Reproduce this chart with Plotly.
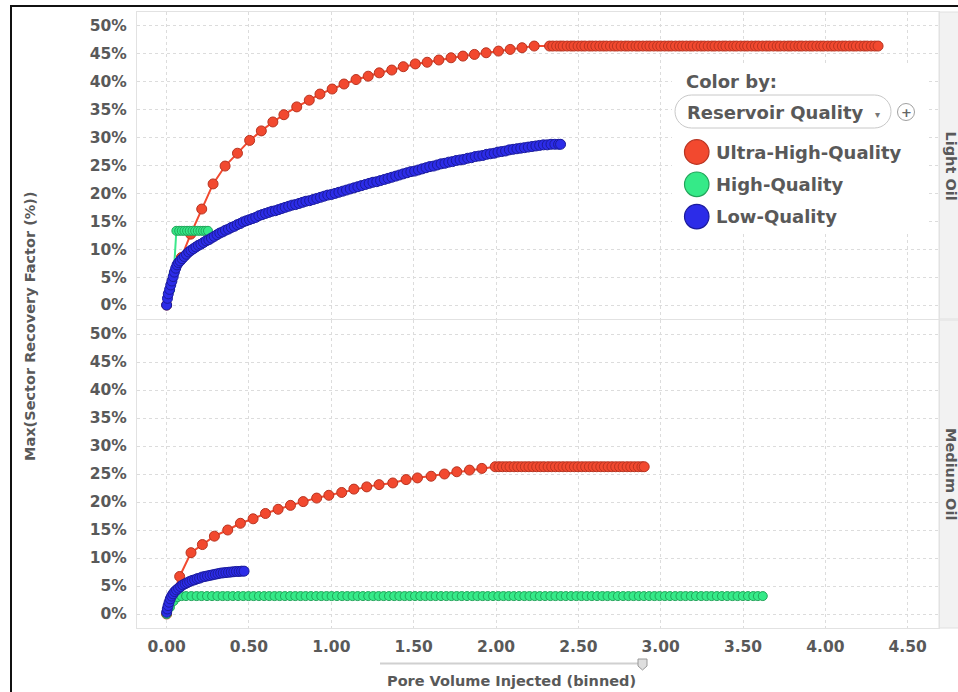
import plotly.graph_objects as go

FIG_W, FIG_H = 958, 692

# ---------------------------------------------------------------------------
# Data: Max(Sector Recovery Factor (%)) vs Pore Volume Injected (binned)
# ---------------------------------------------------------------------------
facet_names = ["Light Oil", "Medium Oil"]
quality_names = ["Ultra-High-Quality", "High-Quality", "Low-Quality"]
y_tick_values = [0, 5, 10, 15, 20, 25, 30, 35, 40, 45, 50]
y_tick_labels = ["0%", "5%", "10%", "15%", "20%", "25%", "30%", "35%", "40%", "45%", "50%"]
x_tick_values = [0.0, 0.5, 1.0, 1.5, 2.0, 2.5, 3.0, 3.5, 4.0, 4.5]
x_tick_labels = ["0.00", "0.50", "1.00", "1.50", "2.00", "2.50", "3.00", "3.50", "4.00", "4.50"]

# Light Oil / Ultra-High-Quality
pv_light_ultra = [
    0.000, 0.089, 0.146, 0.213, 0.282, 0.355, 0.430, 0.504, 0.575, 0.645,
    0.712, 0.790, 0.866, 0.931, 1.005, 1.077, 1.150, 1.224, 1.291, 1.367,
    1.437, 1.510, 1.582, 1.653, 1.727, 1.799, 1.869, 1.940, 2.015, 2.086,
    2.158, 2.232,
    2.325, 2.345, 2.368, 2.390, 2.408, 2.432, 2.455, 2.474, 2.498, 2.520,
    2.540, 2.566, 2.585, 2.606, 2.630, 2.652, 2.671, 2.695, 2.718, 2.737,
    2.760, 2.784, 2.803, 2.826, 2.850, 2.869, 2.892, 2.915, 2.935, 2.958,
    2.981, 3.001, 3.024, 3.047, 3.066, 3.090, 3.113, 3.133, 3.156, 3.179,
    3.198, 3.222, 3.245, 3.265, 3.288, 3.311, 3.330, 3.354, 3.377, 3.396,
    3.420, 3.443, 3.462, 3.486, 3.509, 3.528, 3.552, 3.575, 3.594, 3.618,
    3.641, 3.660, 3.684, 3.707, 3.726, 3.750, 3.773, 3.792, 3.816, 3.839,
    3.858, 3.882, 3.905, 3.924, 3.948, 3.971, 3.990, 4.014, 4.037, 4.056,
    4.080, 4.103, 4.122, 4.146, 4.169, 4.188, 4.212, 4.235, 4.254, 4.278,
    4.300, 4.320,
]
rf_light_ultra = [
    0.0, 8.5, 12.7, 17.2, 21.7, 24.9, 27.2, 29.5, 31.2, 32.8,
    34.1, 35.5, 36.7, 37.8, 38.7, 39.6, 40.4, 41.0, 41.6, 42.1,
    42.7, 43.2, 43.5, 43.9, 44.3, 44.6, 44.9, 45.2, 45.5, 45.8,
    46.1, 46.4,
    46.4, 46.4, 46.4, 46.4, 46.4, 46.4, 46.4, 46.4, 46.4, 46.4,
    46.4, 46.4, 46.4, 46.4, 46.4, 46.4, 46.4, 46.4, 46.4, 46.4,
    46.4, 46.4, 46.4, 46.4, 46.4, 46.4, 46.4, 46.4, 46.4, 46.4,
    46.4, 46.4, 46.4, 46.4, 46.4, 46.4, 46.4, 46.4, 46.4, 46.4,
    46.4, 46.4, 46.4, 46.4, 46.4, 46.4, 46.4, 46.4, 46.4, 46.4,
    46.4, 46.4, 46.4, 46.4, 46.4, 46.4, 46.4, 46.4, 46.4, 46.4,
    46.4, 46.4, 46.4, 46.4, 46.4, 46.4, 46.4, 46.4, 46.4, 46.4,
    46.4, 46.4, 46.4, 46.4, 46.4, 46.4, 46.4, 46.4, 46.4, 46.4,
    46.4, 46.4, 46.4, 46.4, 46.4, 46.4, 46.4, 46.4, 46.4, 46.4,
    46.4, 46.4,
]

# Light Oil / High-Quality
pv_light_high = [
    0.000, 0.021, 0.043, 0.059, 0.076, 0.092, 0.108, 0.124, 0.140, 0.157,
    0.173, 0.189, 0.205, 0.221, 0.236, 0.251,
]
rf_light_high = [
    0.0, 2.7, 5.6, 13.3, 13.3, 13.3, 13.3, 13.3, 13.3, 13.3,
    13.3, 13.3, 13.3, 13.3, 13.3, 13.3,
]

# Light Oil / Low-Quality
pv_light_low = [
    0.000, 0.005, 0.010, 0.018, 0.025, 0.032, 0.040, 0.047, 0.055, 0.063,
    0.072, 0.082, 0.094, 0.107, 0.120, 0.134, 0.148, 0.163, 0.178, 0.193,
    0.208, 0.224, 0.240, 0.256, 0.272, 0.289, 0.306, 0.323, 0.340, 0.357,
    0.375, 0.393, 0.411, 0.429, 0.447, 0.465, 0.484, 0.503, 0.522, 0.541,
    0.560, 0.580, 0.600, 0.620, 0.640, 0.660, 0.680, 0.700, 0.720, 0.741,
    0.762, 0.783, 0.804, 0.825, 0.846, 0.868, 0.890, 0.912, 0.934, 0.956,
    0.978, 1.000, 1.023, 1.046, 1.069, 1.092, 1.115, 1.138, 1.161, 1.184,
    1.207, 1.230, 1.253, 1.276, 1.299, 1.322, 1.345, 1.368, 1.391, 1.414,
    1.437, 1.460, 1.483, 1.506, 1.529, 1.552, 1.575, 1.598, 1.621, 1.644,
    1.667, 1.690, 1.713, 1.736, 1.759, 1.782, 1.805, 1.828, 1.851, 1.874,
    1.897, 1.920, 1.943, 1.966, 1.989, 2.012, 2.035, 2.058, 2.081, 2.104,
    2.127, 2.150, 2.173, 2.196, 2.219, 2.242, 2.265, 2.288, 2.311, 2.334,
    2.357, 2.380, 2.392,
]
rf_light_low = [
    0.0, 1.2, 2.0, 2.8, 3.6, 4.3, 5.1, 5.9, 6.6, 7.2,
    7.6, 7.9, 8.3, 8.7, 9.1, 9.5, 9.8, 10.1, 10.4, 10.7,
    10.9, 11.2, 11.5, 11.7, 12.0, 12.3, 12.6, 12.9, 13.1, 13.4,
    13.6, 13.9, 14.1, 14.4, 14.6, 14.9, 15.1, 15.3, 15.5, 15.7,
    16.0, 16.2, 16.4, 16.6, 16.8, 16.9, 17.1, 17.3, 17.5, 17.7,
    17.9, 18.0, 18.2, 18.4, 18.6, 18.7, 18.9, 19.1, 19.3, 19.5,
    19.7, 19.8, 20.0, 20.2, 20.4, 20.6, 20.8, 21.0, 21.2, 21.4,
    21.6, 21.8, 22.0, 22.1, 22.3, 22.5, 22.7, 22.9, 23.1, 23.3,
    23.5, 23.7, 23.9, 24.0, 24.2, 24.4, 24.6, 24.8, 24.9, 25.1,
    25.3, 25.4, 25.6, 25.7, 25.9, 26.0, 26.1, 26.3, 26.4, 26.6,
    26.7, 26.8, 27.0, 27.1, 27.2, 27.4, 27.5, 27.6, 27.8, 27.9,
    28.0, 28.1, 28.2, 28.3, 28.4, 28.5, 28.6, 28.7, 28.7, 28.8,
    28.8, 28.8, 28.8,
]

# Medium Oil / Ultra-High-Quality
pv_medium_ultra = [
    0.000, 0.079, 0.148, 0.217, 0.290, 0.371, 0.448, 0.525, 0.600, 0.677,
    0.752, 0.829, 0.911, 0.985, 1.063, 1.137, 1.215, 1.290, 1.373, 1.454,
    1.523, 1.606, 1.687, 1.762, 1.839, 1.914, 1.995,
    2.018, 2.040, 2.063, 2.085, 2.110, 2.132, 2.155, 2.178, 2.200, 2.224,
    2.247, 2.270, 2.292, 2.316, 2.338, 2.361, 2.384, 2.407, 2.430, 2.452,
    2.476, 2.498, 2.521, 2.544, 2.567, 2.590, 2.612, 2.636, 2.658, 2.681,
    2.704, 2.727, 2.750, 2.772, 2.796, 2.818, 2.841, 2.864, 2.886, 2.900,
]
rf_medium_ultra = [
    0.0, 6.7, 10.95, 12.4, 13.9, 15.0, 16.2, 17.0, 17.95, 18.7,
    19.4, 20.07, 20.7, 21.2, 21.7, 22.3, 22.7, 23.1, 23.4, 24.0,
    24.3, 24.6, 25.0, 25.4, 25.7, 26.0, 26.3,
    26.3, 26.3, 26.3, 26.3, 26.3, 26.3, 26.3, 26.3, 26.3, 26.3,
    26.3, 26.3, 26.3, 26.3, 26.3, 26.3, 26.3, 26.3, 26.3, 26.3,
    26.3, 26.3, 26.3, 26.3, 26.3, 26.3, 26.3, 26.3, 26.3, 26.3,
    26.3, 26.3, 26.3, 26.3, 26.3, 26.3, 26.3, 26.3, 26.3, 26.3,
]

# Medium Oil / High-Quality
pv_medium_high = [
    0.000, 0.020, 0.042, 0.065,
    0.090, 0.118, 0.150, 0.182, 0.212, 0.245, 0.276, 0.308, 0.340, 0.370,
    0.402, 0.434, 0.465, 0.497, 0.528, 0.560, 0.592, 0.623, 0.655, 0.686,
    0.718, 0.750, 0.781, 0.813, 0.844, 0.876, 0.908, 0.939, 0.971, 1.002,
    1.034, 1.066, 1.097, 1.129, 1.160, 1.192, 1.224, 1.255, 1.287, 1.318,
    1.350, 1.382, 1.413, 1.445, 1.476, 1.508, 1.540, 1.571, 1.603, 1.634,
    1.666, 1.698, 1.729, 1.761, 1.792, 1.824, 1.856, 1.887, 1.919, 1.950,
    1.982, 2.014, 2.045, 2.077, 2.108, 2.140, 2.172, 2.203, 2.235, 2.266,
    2.298, 2.330, 2.361, 2.393, 2.424, 2.456, 2.488, 2.519, 2.551, 2.582,
    2.614, 2.646, 2.677, 2.709, 2.740, 2.772, 2.804, 2.835, 2.867, 2.898,
    2.930, 2.962, 2.993, 3.025, 3.056, 3.088, 3.120, 3.151, 3.183, 3.214,
    3.246, 3.278, 3.309, 3.341, 3.372, 3.404, 3.436, 3.467, 3.499, 3.530,
    3.562, 3.590, 3.620,
]
rf_medium_high = [
    0.0, 1.2, 2.3, 3.0,
    3.2, 3.2, 3.2, 3.2, 3.2, 3.2, 3.2, 3.2, 3.2, 3.2,
    3.2, 3.2, 3.2, 3.2, 3.2, 3.2, 3.2, 3.2, 3.2, 3.2,
    3.2, 3.2, 3.2, 3.2, 3.2, 3.2, 3.2, 3.2, 3.2, 3.2,
    3.2, 3.2, 3.2, 3.2, 3.2, 3.2, 3.2, 3.2, 3.2, 3.2,
    3.2, 3.2, 3.2, 3.2, 3.2, 3.2, 3.2, 3.2, 3.2, 3.2,
    3.2, 3.2, 3.2, 3.2, 3.2, 3.2, 3.2, 3.2, 3.2, 3.2,
    3.2, 3.2, 3.2, 3.2, 3.2, 3.2, 3.2, 3.2, 3.2, 3.2,
    3.2, 3.2, 3.2, 3.2, 3.2, 3.2, 3.2, 3.2, 3.2, 3.2,
    3.2, 3.2, 3.2, 3.2, 3.2, 3.2, 3.2, 3.2, 3.2, 3.2,
    3.2, 3.2, 3.2, 3.2, 3.2, 3.2, 3.2, 3.2, 3.2, 3.2,
    3.2, 3.2, 3.2, 3.2, 3.2, 3.2, 3.2, 3.2, 3.2, 3.2,
    3.2, 3.2, 3.2,
]

# Medium Oil / Low-Quality
pv_medium_low = [
    0.000, 0.004, 0.009, 0.015, 0.022, 0.030, 0.039, 0.049, 0.060, 0.072,
    0.085, 0.098, 0.112, 0.126, 0.140, 0.155, 0.170, 0.185, 0.200, 0.216,
    0.232, 0.248, 0.264, 0.280, 0.296, 0.312, 0.328, 0.344, 0.360, 0.376,
    0.392, 0.408, 0.424, 0.440, 0.455, 0.470,
]
rf_medium_low = [
    0.3, 0.9, 1.5, 2.1, 2.7, 3.2, 3.6, 4.0, 4.3, 4.6,
    4.9, 5.2, 5.4, 5.6, 5.8, 6.0, 6.1, 6.3, 6.4, 6.6,
    6.7, 6.8, 6.9, 7.0, 7.1, 7.2, 7.3, 7.35, 7.4, 7.45,
    7.5, 7.55, 7.6, 7.6, 7.65, 7.65,
]

# ---------------------------------------------------------------------------
# Styling
# ---------------------------------------------------------------------------
FONT = "DejaVu Sans"
TEXT = "#595959"
GRID = "#dcdcdc"
FRAME = "#e2e2e2"

palette = {
    "Ultra-High-Quality": dict(fill="#f2492f", edge="#b83421", line="#f24a30", size=10),
    "High-Quality": dict(fill="#35ea88", edge="#22a45a", line="#3be88b", size=9),
    "Low-Quality": dict(fill="#2c2ce8", edge="#1b1b9c", line="#2c2ce8", size=10),
}

# panel geometry in pixels
PLOT_L, PLOT_R = 137, 939
PANEL_TOP = (12, 319)
PANEL_BOT = (320, 628)


def fx(px):
    return px / FIG_W


def fy(py):
    return 1 - py / FIG_H


def label(x, y, text, size, xanchor="center", angle=0, color=TEXT, bold=True):
    return dict(xref="paper", yref="paper", x=fx(x), y=fy(y), text=text,
                xanchor=xanchor, yanchor="middle", textangle=angle, showarrow=False,
                font=dict(family=FONT, size=size, color=color,
                          weight="bold" if bold else "normal"))


fig = go.Figure()

series = [
    ("x", "y", pv_light_ultra, rf_light_ultra, "Ultra-High-Quality"),
    ("x", "y", pv_light_high, rf_light_high, "High-Quality"),
    ("x", "y", pv_light_low, rf_light_low, "Low-Quality"),
    ("x2", "y2", pv_medium_ultra, rf_medium_ultra, "Ultra-High-Quality"),
    ("x2", "y2", pv_medium_high, rf_medium_high, "High-Quality"),
    ("x2", "y2", pv_medium_low, rf_medium_low, "Low-Quality"),
]
for xa, ya, xs, ys, name in series:
    st = palette[name]
    fig.add_trace(go.Scatter(
        x=xs, y=ys, xaxis=xa, yaxis=ya, name=name, showlegend=False,
        mode="lines+markers",
        line=dict(color=st["line"], width=2),
        marker=dict(size=st["size"], color=st["fill"],
                    line=dict(color=st["edge"], width=1)),
    ))

tick_font = dict(family=FONT, size=15.5, color=TEXT, weight="bold")
x_common = dict(
    range=[-0.18, 4.69], tickvals=x_tick_values, ticktext=x_tick_labels,
    showgrid=True, gridcolor=GRID, griddash="dot", gridwidth=1,
    zeroline=False, showline=True, linecolor=FRAME, mirror=True,
    ticks="", tickfont=tick_font, automargin=False,
    domain=[fx(PLOT_L), fx(PLOT_R)],
)
y_common = dict(
    range=[-2.5, 52.5], tickvals=y_tick_values, ticktext=y_tick_labels,
    showgrid=True, gridcolor=GRID, griddash="dot", gridwidth=1,
    zeroline=False, showline=True, linecolor=FRAME, mirror=True,
    ticks="", tickfont=tick_font, automargin=False, ticklabelstandoff=6,
)

fig.update_layout(
    width=FIG_W, height=FIG_H,
    margin=dict(l=0, r=0, t=0, b=0),
    paper_bgcolor="white", plot_bgcolor="white",
    font=dict(family=FONT, color=TEXT),
    showlegend=False,
    xaxis=dict(**x_common, anchor="y", showticklabels=False),
    yaxis=dict(**y_common, anchor="x", domain=[fy(PANEL_TOP[1]), fy(PANEL_TOP[0])]),
    xaxis2=dict(**x_common, anchor="y2", showticklabels=True, ticklabelstandoff=4),
    yaxis2=dict(**y_common, anchor="x2", domain=[fy(PANEL_BOT[1]), fy(PANEL_BOT[0])]),
)

shapes = []
annotations = []

# facet strips on the right
for (top, bot), facet in zip([PANEL_TOP, PANEL_BOT], facet_names):
    shapes.append(dict(type="rect", xref="paper", yref="paper",
                       x0=fx(PLOT_R), x1=fx(FIG_W + 2), y0=fy(bot), y1=fy(top),
                       fillcolor="#f2f2f2", line=dict(color="#e0e0e0", width=1), layer="below"))
    annotations.append(label(951, (top + bot) / 2, facet, 14.5, angle=90))

# colour legend card
shapes.append(dict(type="rect", xref="paper", yref="paper",
                   x0=fx(672), x1=fx(926), y0=fy(234), y1=fy(66),
                   fillcolor="white", line=dict(width=0), layer="above"))
annotations.append(label(684, 82, "Color by:", 18, xanchor="left"))


def pill_path(x0, y0, x1, y1):
    r = (y1 - y0) / 2
    k = 0.5523 * r
    ym = (y0 + y1) / 2
    pts = [
        f"M{fx(x0 + r)},{fy(y0)}",
        f"L{fx(x1 - r)},{fy(y0)}",
        f"C{fx(x1 - r + k)},{fy(y0)} {fx(x1)},{fy(ym - k)} {fx(x1)},{fy(ym)}",
        f"C{fx(x1)},{fy(ym + k)} {fx(x1 - r + k)},{fy(y1)} {fx(x1 - r)},{fy(y1)}",
        f"L{fx(x0 + r)},{fy(y1)}",
        f"C{fx(x0 + r - k)},{fy(y1)} {fx(x0)},{fy(ym + k)} {fx(x0)},{fy(ym)}",
        f"C{fx(x0)},{fy(ym - k)} {fx(x0 + r - k)},{fy(y0)} {fx(x0 + r)},{fy(y0)}",
        "Z",
    ]
    return " ".join(pts)


shapes.append(dict(type="path", xref="paper", yref="paper", path=pill_path(675, 95, 891, 128),
                   fillcolor="white", line=dict(color="#c8c8c8", width=1), layer="above"))
annotations.append(label(685, 112, "Reservoir Quality", 18, xanchor="left"))
annotations.append(label(877, 114, "▾", 10, color="#777777", bold=False))
shapes.append(dict(type="circle", xref="paper", yref="paper",
                   x0=fx(897.5), x1=fx(914.5), y0=fy(120.5), y1=fy(103.5),
                   fillcolor="white", line=dict(color="#a0a0a0", width=1), layer="above"))
annotations.append(label(906, 112, "+", 13, color="#666666"))

for i, name in enumerate(quality_names):
    cy = 152 + 32.3 * i
    st = palette[name]
    shapes.append(dict(type="circle", xref="paper", yref="paper",
                       x0=fx(684.5), x1=fx(709), y0=fy(cy + 12.3), y1=fy(cy - 12.3),
                       fillcolor=st["fill"], line=dict(color=st["edge"], width=1.2), layer="above"))
    annotations.append(label(714, cy, name, 18, xanchor="left"))

# axis titles
annotations.append(label(30, 326, "Max(Sector Recovery Factor (%))", 14.5, angle=-90))
annotations.append(label(512, 681, "Pore Volume Injected (binned)", 14.5))

# range slider under the x axis
shapes.append(dict(type="line", xref="paper", yref="paper",
                   x0=fx(380), x1=fx(640), y0=fy(663.5), y1=fy(663.5),
                   line=dict(color="#d0d0d0", width=2)))
handle = (f"M{fx(638)},{fy(659)} L{fx(647)},{fy(659)} L{fx(647)},{fy(666)} "
          f"L{fx(642.5)},{fy(670)} L{fx(638)},{fy(666)} Z")
shapes.append(dict(type="path", xref="paper", yref="paper", path=handle,
                   fillcolor="#dedede", line=dict(color="#9a9a9a", width=1)))

# outer frame
shapes.append(dict(type="rect", xref="paper", yref="paper",
                   x0=fx(11), x1=fx(FIG_W + 6), y0=fy(FIG_H + 6), y1=fy(6),
                   line=dict(color="#111111", width=2), fillcolor="rgba(0,0,0,0)"))

fig.update_layout(shapes=shapes, annotations=annotations)
fig.write_html("out.html")
